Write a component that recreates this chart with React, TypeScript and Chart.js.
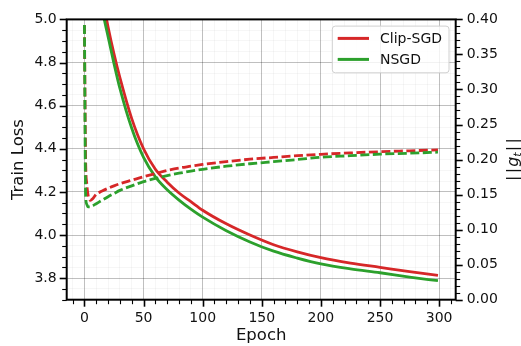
import React, { useEffect, useRef } from 'react';
import { Chart, registerables } from 'chart.js';

Chart.register(...registerables);

const epochs = [0, 1, 2, 3, 5, 7, 10, 15, 20, 25, 30, 40, 50, 60, 70, 80, 90, 100, 120, 140, 160, 180, 200, 225, 250, 275, 299];
const clipLoss = [5.92, 5.84, 5.77, 5.70, 5.58, 5.47, 5.32, 5.11, 4.965, 4.84, 4.73, 4.54, 4.40, 4.305, 4.245, 4.195, 4.155, 4.115, 4.052, 4.00, 3.955, 3.922, 3.895, 3.87, 3.85, 3.83, 3.813];
const nsgdLoss = [5.85, 5.77, 5.70, 5.63, 5.50, 5.39, 5.24, 5.05, 4.92, 4.795, 4.68, 4.495, 4.36, 4.27, 4.21, 4.162, 4.12, 4.083, 4.02, 3.968, 3.925, 3.893, 3.866, 3.843, 3.825, 3.805, 3.788];
const clipNorm = [0.392, 0.2, 0.165, 0.15, 0.1418, 0.144, 0.1505, 0.155, 0.159, 0.1625, 0.1655, 0.1705, 0.1755, 0.18, 0.1845, 0.188, 0.1905, 0.193, 0.197, 0.2005, 0.203, 0.2055, 0.2075, 0.2095, 0.2112, 0.2125, 0.2138];
const nsgdNorm = [0.392, 0.15, 0.136, 0.1325, 0.1325, 0.134, 0.137, 0.142, 0.147, 0.1515, 0.156, 0.1625, 0.1685, 0.173, 0.177, 0.1805, 0.1835, 0.186, 0.1905, 0.194, 0.197, 0.2, 0.2033, 0.2055, 0.2077, 0.209, 0.2105];

const seriesNames = ['Clip-SGD', 'NSGD'];
const xTickLabels = ['0', '50', '100', '150', '200', '250', '300'];
const leftTickLabels = ['3.8', '4.0', '4.2', '4.4', '4.6', '4.8', '5.0'];
const rightTickLabels = ['0.00', '0.05', '0.10', '0.15', '0.20', '0.25', '0.30', '0.35', '0.40'];

const RED = '#d62728';
const GREEN = '#2ca02c';
const FONT = "'DejaVu Sans', sans-serif";

const isMajorX = (v: number) => Math.round(v) % 50 === 0;
const isMajorL = (v: number) => Math.round(v * 100) % 20 === 0;
const isMajorR = (v: number) => Math.round(v * 100) % 5 === 0;

const pts = (ys: number[]) => epochs.map((e, i) => ({ x: e, y: ys[i] }));

const framePlugin = {
  id: 'frameTicks',
  afterDatasetsDraw(chart: any) {
    const { ctx, chartArea: ca, scales } = chart;
    ctx.save();
    ctx.strokeStyle = '#000';
    const drawTick = (x1: number, y1: number, x2: number, y2: number, major: boolean) => {
      ctx.lineWidth = major ? 1.6 : 1.1;
      ctx.beginPath();
      ctx.moveTo(x1, y1);
      ctx.lineTo(x2, y2);
      ctx.stroke();
    };
    const xs = scales.x;
    xs.ticks.forEach((t: any) => {
      const p = Math.round(xs.getPixelForValue(t.value)) + 0.5;
      const m = isMajorX(t.value);
      drawTick(p, ca.bottom, p, ca.bottom + (m ? 7 : 4.5), m);
    });
    const yl = scales.yL;
    yl.ticks.forEach((t: any) => {
      const p = Math.round(yl.getPixelForValue(t.value)) + 0.5;
      const m = isMajorL(t.value);
      drawTick(ca.left, p, ca.left - (m ? 7 : 4.5), p, m);
    });
    const yr = scales.yR;
    yr.ticks.forEach((t: any) => {
      const p = Math.round(yr.getPixelForValue(t.value)) + 0.5;
      const m = isMajorR(t.value);
      drawTick(ca.right, p, ca.right + (m ? 7 : 4.5), p, m);
    });
    ctx.lineWidth = 2;
    ctx.strokeRect(ca.left, ca.top, ca.right - ca.left, ca.bottom - ca.top);

    // legend
    const items = chart.data.datasets.filter((d: any) => d.inLegend);
    const boxR = ca.right - 6.7;
    const boxT = ca.top + 6.7;
    const boxW = 116.7;
    const boxH = 46.7;
    const boxL = boxR - boxW;
    const r = 3;
    ctx.beginPath();
    ctx.moveTo(boxL + r, boxT);
    ctx.arcTo(boxR, boxT, boxR, boxT + boxH, r);
    ctx.arcTo(boxR, boxT + boxH, boxL, boxT + boxH, r);
    ctx.arcTo(boxL, boxT + boxH, boxL, boxT, r);
    ctx.arcTo(boxL, boxT, boxR, boxT, r);
    ctx.closePath();
    ctx.fillStyle = 'rgba(255,255,255,0.8)';
    ctx.fill();
    ctx.lineWidth = 1;
    ctx.strokeStyle = '#d0d0d0';
    ctx.stroke();
    ctx.font = `14px ${FONT}`;
    ctx.textBaseline = 'middle';
    ctx.textAlign = 'left';
    items.forEach((d: any, i: number) => {
      const y = boxT + 12.3 + i * 21;
      ctx.strokeStyle = d.borderColor;
      ctx.lineWidth = 3;
      ctx.setLineDash([]);
      ctx.beginPath();
      ctx.moveTo(boxL + 5.4, y);
      ctx.lineTo(boxL + 36.7, y);
      ctx.stroke();
      ctx.fillStyle = '#111';
      ctx.fillText(d.label, boxL + 47.7, y + 1);
    });

    // right axis label ||g_t||
    const cx = ca.right + 56.3;
    const cy = (ca.top + ca.bottom) / 2;
    ctx.translate(cx, cy);
    ctx.rotate(-Math.PI / 2);
    ctx.fillStyle = '#111';
    ctx.textBaseline = 'alphabetic';
    const pieces = [
      { t: '||', f: `16px ${FONT}`, dy: 0, gap: 1 },
      { t: 'g', f: `italic 16px ${FONT}`, dy: 0, gap: 0 },
      { t: 't', f: `italic 11px ${FONT}`, dy: 3.5, gap: 1 },
      { t: '||', f: `16px ${FONT}`, dy: 0, gap: 0 },
    ];
    let total = 0;
    const widths = pieces.map((p) => {
      ctx.font = p.f;
      const w = p.t === '||' ? ctx.measureText('|').width * 2 + 2.5 : ctx.measureText(p.t).width;
      total += w + p.gap;
      return w;
    });
    let x = -total / 2;
    pieces.forEach((p, i) => {
      ctx.font = p.f;
      if (p.t === '||') {
        const bw = ctx.measureText('|').width;
        ctx.fillText('|', x, 5.5 + p.dy);
        ctx.fillText('|', x + bw + 2.5, 5.5 + p.dy);
      } else {
        ctx.fillText(p.t, x, 5.5 + p.dy);
      }
      x += widths[i] + p.gap;
    });
    ctx.restore();
  },
};

export default function App() {
  const ref = useRef<HTMLCanvasElement | null>(null);
  useEffect(() => {
    if (!ref.current) return;
    const gridColor = (major: (v: number) => boolean) => (c: any) =>
      c.tick && major(c.tick.value) ? 'rgba(0,0,0,0.25)' : 'rgba(0,0,0,0.035)';
    const chart = new Chart(ref.current, {
      type: 'line',
      data: {
        datasets: [
          { label: seriesNames[1] + ' norm', data: pts(nsgdNorm), yAxisID: 'yR', borderColor: GREEN, borderDash: [9, 3.5], borderWidth: 2.8, pointRadius: 0, cubicInterpolationMode: 'monotone', order: 0 } as any,
          { label: seriesNames[0] + ' norm', data: pts(clipNorm), yAxisID: 'yR', borderColor: RED, borderDash: [9, 3.5], borderWidth: 2.8, pointRadius: 0, cubicInterpolationMode: 'monotone', order: 1 } as any,
          { label: seriesNames[0], data: pts(clipLoss), yAxisID: 'yL', borderColor: RED, borderWidth: 2.8, pointRadius: 0, cubicInterpolationMode: 'monotone', order: 3, inLegend: true } as any,
          { label: seriesNames[1], data: pts(nsgdLoss), yAxisID: 'yL', borderColor: GREEN, borderWidth: 2.8, pointRadius: 0, cubicInterpolationMode: 'monotone', order: 2, inLegend: true } as any,
        ],
      },
      options: {
        responsive: false,
        animation: false,
        devicePixelRatio: 1,
        layout: { padding: { top: 13.3, left: 0, right: 0, bottom: 0 } },
        plugins: { legend: { display: false }, tooltip: { enabled: false } },
        scales: {
          x: {
            type: 'linear',
            min: -15,
            max: 314,
            afterFit: (s: any) => { s.height = 46.3; },
            ticks: {
              stepSize: 10,
              includeBounds: false,
              autoSkip: false,
              maxRotation: 0,
              padding: 10,
              color: '#111',
              font: { family: FONT, size: 14 },
              callback: (v: any) => (isMajorX(Number(v)) && xTickLabels.includes(String(Math.round(Number(v)))) ? String(Math.round(Number(v))) : ''),
            },
            grid: { drawTicks: false, color: gridColor(isMajorX), lineWidth: 1 },
            border: { display: false },
            title: { display: true, text: 'Epoch', color: '#111', font: { family: FONT, size: 16.5 }, padding: { top: 0, bottom: 0 } },
          },
          yL: {
            type: 'linear',
            position: 'left',
            min: 3.7,
            max: 5.0,
            afterFit: (s: any) => { s.width = 66.7; },
            ticks: {
              stepSize: 0.05,
              includeBounds: false,
              autoSkip: false,
              maxTicksLimit: 100,
              padding: 10,
              color: '#111',
              font: { family: FONT, size: 14 },
              callback: (v: any) => {
                const s = Number(v).toFixed(1);
                return isMajorL(Number(v)) && leftTickLabels.includes(s) ? s : '';
              },
            },
            grid: { drawTicks: false, color: gridColor(isMajorL), lineWidth: 1 },
            border: { display: false },
            title: { display: true, text: 'Train Loss', color: '#111', font: { family: FONT, size: 16.5 }, padding: { top: 8.5, bottom: 0 } },
          },
          yR: {
            type: 'linear',
            position: 'right',
            min: 0,
            max: 0.4,
            afterFit: (s: any) => { s.width = 65.3; },
            ticks: {
              stepSize: 0.01,
              includeBounds: false,
              autoSkip: false,
              maxTicksLimit: 100,
              padding: 11,
              color: '#111',
              font: { family: FONT, size: 14 },
              callback: (v: any) => {
                const s = Number(v).toFixed(2);
                return isMajorR(Number(v)) && rightTickLabels.includes(s) ? s : '';
              },
            },
            grid: { display: false, drawTicks: false },
            border: { display: false },
          },
        },
      },
      plugins: [framePlugin],
    });
    return () => chart.destroy();
  }, []);
  return (
    <div style={{ position: 'absolute', left: 0, top: 0, width: 521, height: 346, background: '#fff' }}>
      <canvas ref={ref} width={521} height={346} style={{ width: 521, height: 346 }} />
    </div>
  );
}
